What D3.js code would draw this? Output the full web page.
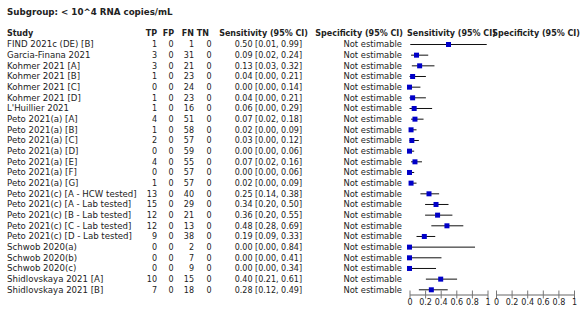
<!DOCTYPE html>
<html>
<head>
<meta charset="utf-8">
<script src="https://cdn.jsdelivr.net/npm/d3@7"></script>
<style>
  body { margin: 0; background: #fff; }
  text { font-family: "DejaVu Sans", sans-serif; font-size: 8px; fill: #222; }
  .bold { font-weight: bold; }
</style>
</head>
<body>
<div id="chart"></div>
<script>
// study rows
const studies = [
  "FIND 2021c (DE) [B]", "Garcia-Finana 2021", "Kohmer 2021 [A]", "Kohmer 2021 [B]",
  "Kohmer 2021 [C]", "Kohmer 2021 [D]", "L'Huillier 2021", "Peto 2021(a) [A]",
  "Peto 2021(a) [B]", "Peto 2021(a) [C]", "Peto 2021(a) [D]", "Peto 2021(a) [E]",
  "Peto 2021(a) [F]", "Peto 2021(a) [G]", "Peto 2021(c) [A - HCW tested]",
  "Peto 2021(c) [A - Lab tested]", "Peto 2021(c) [B - Lab tested]",
  "Peto 2021(c) [C - Lab tested]", "Peto 2021(c) [D - Lab tested]",
  "Schwob 2020(a)", "Schwob 2020(b)", "Schwob 2020(c)",
  "Shidlovskaya 2021 [A]", "Shidlovskaya 2021 [B]"
];
const tp = [1, 3, 3, 1, 0, 1, 1, 4, 1, 2, 0, 4, 0, 1, 13, 15, 12, 12, 9, 0, 0, 0, 10, 7];
const fp = [0, 0, 0, 0, 0, 0, 0, 0, 0, 0, 0, 0, 0, 0, 0, 0, 0, 0, 0, 0, 0, 0, 0, 0];
const fn = [1, 31, 21, 23, 24, 23, 16, 51, 58, 57, 59, 55, 57, 57, 40, 29, 21, 13, 38, 2, 7, 9, 15, 18];
const tn = [0, 0, 0, 0, 0, 0, 0, 0, 0, 0, 0, 0, 0, 0, 0, 0, 0, 0, 0, 0, 0, 0, 0, 0];
const sens = [0.50, 0.09, 0.13, 0.04, 0.00, 0.04, 0.06, 0.07, 0.02, 0.03, 0.00, 0.07, 0.00, 0.02, 0.25, 0.34, 0.36, 0.48, 0.19, 0.00, 0.00, 0.00, 0.40, 0.28];
const sensLo = [0.01, 0.02, 0.03, 0.00, 0.00, 0.00, 0.00, 0.02, 0.00, 0.00, 0.00, 0.02, 0.00, 0.00, 0.14, 0.20, 0.20, 0.28, 0.09, 0.00, 0.00, 0.00, 0.21, 0.12];
const sensHi = [0.99, 0.24, 0.32, 0.21, 0.14, 0.21, 0.29, 0.18, 0.09, 0.12, 0.06, 0.16, 0.06, 0.09, 0.38, 0.50, 0.55, 0.69, 0.33, 0.84, 0.41, 0.34, 0.61, 0.49];
const axisTicks = [0, 0.2, 0.4, 0.6, 0.8, 1];
const title = "Subgroup: < 10^4 RNA copies/mL";

const width = 582, height = 312;
const svg = d3.select("#chart").append("svg")
  .attr("width", width).attr("height", height);

const y = d3.scalePoint().domain(d3.range(studies.length)).range([44.5, 289.8]);
const xSens = d3.scaleLinear().domain([0, 1]).range([409.5, 487.5]);
const xSpec = d3.scaleLinear().domain([0, 1]).range([496, 574]);
const fmt = d3.format(".2f");

svg.append("text").attr("class", "bold").attr("x", 7).attr("y", 15).style("font-size", "8.7px").text(title);

// header row
const hy = 36;
const headers = [
  { t: "Study", x: 7, a: "start" },
  { t: "TP", x: 157, a: "end" },
  { t: "FP", x: 174, a: "end" },
  { t: "FN", x: 194, a: "end" },
  { t: "TN", x: 209, a: "end" },
  { t: "Sensitivity (95% CI)", x: 308, a: "end" },
  { t: "Specificity (95% CI)", x: 403, a: "end" },
  { t: "Sensitivity (95% CI)", x: 407, a: "start" },
  { t: "Specificity (95% CI)", x: 580, a: "end" }
];
svg.selectAll(".hdr").data(headers).join("text")
  .attr("class", "hdr bold")
  .attr("x", d => d.x).attr("y", hy)
  .attr("text-anchor", d => d.a)
  .text(d => d.t);

const rows = svg.selectAll(".row").data(studies).join("g")
  .attr("class", "row")
  .attr("transform", (d, i) => `translate(0,${y(i) + 2.8})`);

rows.append("text").attr("x", 7).style("font-size", "8.6px").text(d => d);
rows.append("text").attr("x", 157).attr("text-anchor", "end").text((d, i) => tp[i]);
rows.append("text").attr("x", 173.5).attr("text-anchor", "end").text((d, i) => fp[i]);
rows.append("text").attr("x", 194).attr("text-anchor", "end").text((d, i) => fn[i]);
rows.append("text").attr("x", 211.5).attr("text-anchor", "end").text((d, i) => tn[i]);
rows.append("text").attr("x", 302).attr("text-anchor", "end")
  .text((d, i) => `${fmt(sens[i])} [${fmt(sensLo[i])}, ${fmt(sensHi[i])}]`);
rows.append("text").attr("x", 402).attr("text-anchor", "end").style("font-size", "8.4px").text("Not estimable");

// CI lines and point estimates
svg.selectAll(".ci").data(studies).join("line")
  .attr("class", "ci")
  .attr("x1", (d, i) => xSens(sensLo[i]))
  .attr("x2", (d, i) => xSens(sensHi[i]))
  .attr("y1", (d, i) => y(i)).attr("y2", (d, i) => y(i))
  .attr("stroke", "#111").attr("stroke-width", 1);

const sq = 5;
svg.selectAll(".pt").data(studies).join("rect")
  .attr("class", "pt")
  .attr("x", (d, i) => xSens(sens[i]) - sq / 2)
  .attr("y", (d, i) => y(i) - sq / 2)
  .attr("width", sq).attr("height", sq)
  .attr("fill", "#0000c8");

// axes
const axisY = 294.5;
function drawAxis(scale) {
  const g = svg.append("g").attr("transform", `translate(0,${axisY})`)
    .call(d3.axisBottom(scale).tickValues(axisTicks).tickSize(4).tickSizeOuter(0).tickFormat(d3.format("")));
  g.select(".domain").attr("stroke", "#999").attr("stroke-width", 1.5);
  g.selectAll(".tick line").attr("y1", -4).attr("y2", 4).attr("stroke", "#777");
  g.selectAll(".tick text").attr("y", 5).attr("dy", "0.71em")
    .style("font-family", "DejaVu Sans, sans-serif").style("font-size", "8px").attr("fill", "#222");
}
drawAxis(xSens);
drawAxis(xSpec);
</script>
</body>
</html>
